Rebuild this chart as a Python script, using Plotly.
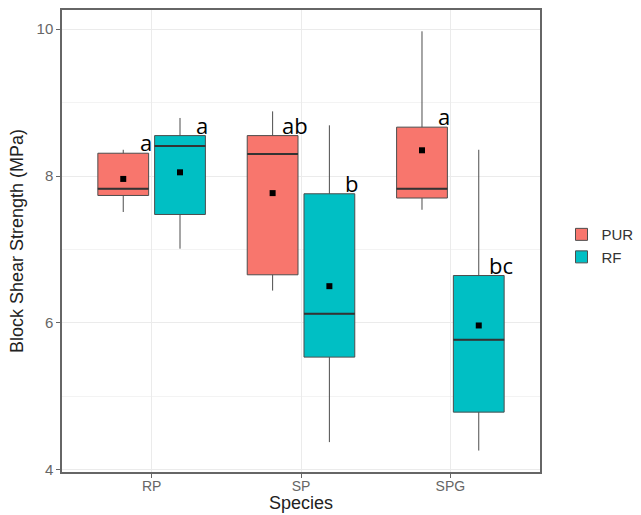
import plotly.graph_objects as go

species = ["RP", "SP", "SPG"]
groups = ["PUR", "RF"]

pur_q1 = [7.735, 6.655, 7.70]
pur_median = [7.826, 8.30, 7.826]
pur_q3 = [8.31, 8.55, 8.665]
pur_low = [7.51, 6.44, 7.54]
pur_high = [8.357, 8.88, 9.97]
pur_mean = [7.96, 7.767, 8.35]
pur_letters = ["a", "ab", "a"]

rf_q1 = [7.476, 5.534, 4.785]
rf_median = [8.41, 6.124, 5.77]
rf_q3 = [8.55, 7.758, 6.645]
rf_low = [7.01, 4.377, 4.262]
rf_high = [8.79, 8.69, 8.357]
rf_mean = [8.05, 6.50, 5.965]
rf_letters = ["a", "b", "bc"]

colors = {"PUR": "#F8766D", "RF": "#00BFC4"}
dodge = 0.19
bw = 0.34

series = {
    "PUR": dict(q1=pur_q1, med=pur_median, q3=pur_q3, lo=pur_low, hi=pur_high, mean=pur_mean, let=pur_letters, off=-dodge),
    "RF": dict(q1=rf_q1, med=rf_median, q3=rf_q3, lo=rf_low, hi=rf_high, mean=rf_mean, let=rf_letters, off=dodge),
}

fig = go.Figure()
annotations = []
base = list(range(1, len(species) + 1))
for g in groups:
    s = series[g]
    xs = [b + s["off"] for b in base]
    fig.add_trace(go.Box(
        x=xs, q1=s["q1"], median=s["med"], q3=s["q3"],
        lowerfence=s["lo"], upperfence=s["hi"],
        name=g, width=bw, whiskerwidth=0,
        fillcolor=colors[g], line=dict(color="#4d4d4d", width=1),
        hoverinfo="skip", boxpoints=False,
    ))
for g in groups:
    s = series[g]
    xs = [b + s["off"] for b in base]
    mx, my = [], []
    for x, m in zip(xs, s["med"]):
        mx += [x - bw / 2, x + bw / 2, None]
        my += [m, m, None]
    fig.add_trace(go.Scatter(x=mx, y=my, mode="lines", line=dict(color="#333333", width=2),
                             showlegend=False, hoverinfo="skip"))
    fig.add_trace(go.Scatter(x=xs, y=s["mean"], mode="markers",
                             marker=dict(symbol="square", size=6, color="black"),
                             showlegend=False, hoverinfo="skip"))
    for x, q3, t in zip(xs, s["q3"], s["let"]):
        annotations.append(dict(x=x + bw / 2 - 0.02, y=q3 + 0.15, text=t, showarrow=False,
                                xref="x", yref="y", xanchor="center", yanchor="middle",
                                font=dict(family="Open Sans", size=22, color="black")))

# x-axis title placed under the tick labels
annotations.append(dict(x=0.5, y=-0.093, xref="paper", yref="paper", text="Species",
                        showarrow=False, xanchor="center", yanchor="bottom",
                        font=dict(family="Liberation Sans", size=18, color="#222222")))

grid = "#EBEBEB"
fig.update_layout(
    width=641, height=515,
    margin=dict(l=62, r=101, t=10, b=43, autoexpand=False),
    paper_bgcolor="white", plot_bgcolor="white",
    boxmode="overlay",
    annotations=annotations,
    font=dict(family="Liberation Sans", color="#555555"),
    legend=dict(x=1.045, y=0.49, xanchor="left", yanchor="middle",
                font=dict(size=15, color="#333333"), bgcolor="rgba(0,0,0,0)",
                tracegroupgap=0),
    xaxis=dict(
        range=[0.4, 3.6], tickvals=base, ticktext=species, automargin=False,
        showgrid=True, gridcolor=grid, zeroline=False,
        showline=True, linecolor="#666666", linewidth=1.5, mirror=True,
        ticks="outside", ticklen=4, tickcolor="#666666", ticklabelstandoff=-4,
        tickfont=dict(size=14, color="#666666"),
    ),
    yaxis=dict(
        range=[3.97, 10.26], tickvals=[4, 6, 8, 10], automargin=False,
        showgrid=True, gridcolor=grid, zeroline=False,
        minor=dict(tickvals=[5, 7, 9], showgrid=True, gridcolor="#F3F3F3", ticks=""),
        showline=True, linecolor="#666666", linewidth=1.5, mirror=True,
        ticks="outside", ticklen=4, tickcolor="#666666",
        tickfont=dict(size=15, color="#666666"),
        title=dict(text="Block Shear Strength (MPa)", font=dict(size=18, color="#222222"), standoff=8),
    ),
)
fig.write_html("out.html")
